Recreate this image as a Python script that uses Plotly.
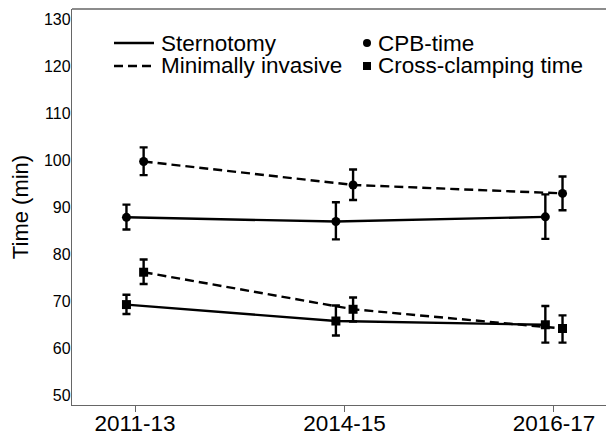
import numpy as np
import plotly.graph_objects as go

periods = ["2011-13", "2014-15", "2016-17"]

stern_cpb = [87.9, 87.0, 88.0]
stern_cpb_hi = [90.6, 91.1, 92.8]
stern_cpb_lo = [85.3, 83.2, 83.3]

mi_cpb = [99.8, 94.8, 93.0]
mi_cpb_hi = [102.8, 98.1, 96.6]
mi_cpb_lo = [96.9, 91.6, 89.4]

stern_xc = [69.3, 65.8, 65.0]
stern_xc_hi = [71.4, 69.1, 69.0]
stern_xc_lo = [67.3, 62.7, 61.2]

mi_xc = [76.2, 68.3, 64.2]
mi_xc_hi = [78.9, 70.8, 67.0]
mi_xc_lo = [73.7, 65.7, 61.2]

yticks = [50, 60, 70, 80, 90, 100, 110, 120, 130]

legend_lines = ["Sternotomy", "Minimally invasive"]
legend_marks = ["CPB-time", "Cross-clamping time"]

idx = np.arange(len(periods))
dodge = 0.041
DASH = "9px,5px"
LW = 2.4

# page has an 8px body margin: figure is sized/placed to compensate
OFF = 8
FIG_W, FIG_H = 606, 432
ML, MR, MT, MB = 72 - OFF, 1, 1, 35

fig = go.Figure()

def add_series(y, hi, lo, offset, dash, symbol):
    y = np.array(y)
    fig.add_trace(go.Scatter(
        x=idx + offset, y=y,
        mode="lines+markers",
        line=dict(color="black", width=LW, dash=dash),
        marker=dict(symbol=symbol, size=9, color="black"),
        error_y=dict(type="data", symmetric=False,
                     array=np.array(hi) - y, arrayminus=y - np.array(lo),
                     color="black", thickness=2.4, width=4),
        showlegend=False, hoverinfo="skip"))

add_series(stern_cpb, stern_cpb_hi, stern_cpb_lo, -dodge, "solid", "circle")
add_series(mi_cpb, mi_cpb_hi, mi_cpb_lo, dodge, DASH, "circle")
add_series(stern_xc, stern_xc_hi, stern_xc_lo, -dodge, "solid", "square")
add_series(mi_xc, mi_xc_hi, mi_xc_lo, dodge, DASH, "square")

# ---- legend (drawn manually for tight row spacing) ----
PL = OFF + ML                 # plot left on page
PB = OFF + FIG_H - MB         # plot bottom on page
W = FIG_W - ML - MR
H = FIG_H - MT - MB
def px_x(p):
    return (p - PL) / W
def px_y(p):
    return (PB - p) / H

row_y = [px_y(43), px_y(66)]
legfont = dict(family="Liberation Sans, Arial", size=22.5, color="black")

axcol = "#666666"
shapes = [dict(type="line", xref="paper", yref="paper", x0=0, x1=1, y0=1, y1=1,
               line=dict(color=axcol, width=1.4))]
annotations = []
for i, (name, dash) in enumerate(zip(legend_lines, ["solid", DASH])):
    shapes.append(dict(type="line", xref="paper", yref="paper",
                       x0=px_x(114), x1=px_x(154), y0=row_y[i], y1=row_y[i],
                       line=dict(color="black", width=LW, dash=dash)))
    annotations.append(dict(text=name, xref="paper", yref="paper", x=px_x(160), y=row_y[i],
                            xanchor="left", yanchor="middle", showarrow=False, font=legfont,
                            borderpad=0))

fig.add_trace(go.Scatter(x=[px_x(367)] * 2, y=row_y, xaxis="x2", yaxis="y2",
                         mode="markers",
                         marker=dict(symbol=["circle", "square"], size=8, color="black"),
                         showlegend=False, hoverinfo="skip"))
for i, name in enumerate(legend_marks):
    annotations.append(dict(text=name, xref="paper", yref="paper", x=px_x(377), y=row_y[i],
                            xanchor="left", yanchor="middle", showarrow=False, font=legfont,
                            borderpad=0))

fig.update_layout(
    width=FIG_W, height=FIG_H,
    margin=dict(l=ML, r=MR, t=MT, b=MB),
    paper_bgcolor="white", plot_bgcolor="white",
    font=dict(family="Liberation Sans, Arial", color="black"),
    showlegend=False,
    xaxis=dict(range=[-0.301, 2.282], tickmode="array", tickvals=idx, ticktext=periods,
               showgrid=False, zeroline=False, showline=True, linecolor=axcol, linewidth=1.4,
               ticks="outside", ticklen=6, tickcolor=axcol, tickwidth=1.2,
               ticklabelstandoff=-8, automargin=False,
               tickfont=dict(size=22.5, color="black")),
    yaxis=dict(range=[47.9, 132.3], tickmode="array", tickvals=yticks,
               showgrid=False, zeroline=False, showline=True, linecolor=axcol, linewidth=1.4,
               ticks="", ticklabelstandoff=-3, automargin=False,
               tickfont=dict(size=16, color="black"),
               title=dict(text="Time (min)", font=dict(size=22, color="black"), standoff=13)),
    xaxis2=dict(range=[0, 1], overlaying="x", visible=False, fixedrange=True),
    yaxis2=dict(range=[0, 1], overlaying="y", visible=False, fixedrange=True),
    shapes=shapes,
    annotations=annotations,
)

fig.write_html("out.html")
